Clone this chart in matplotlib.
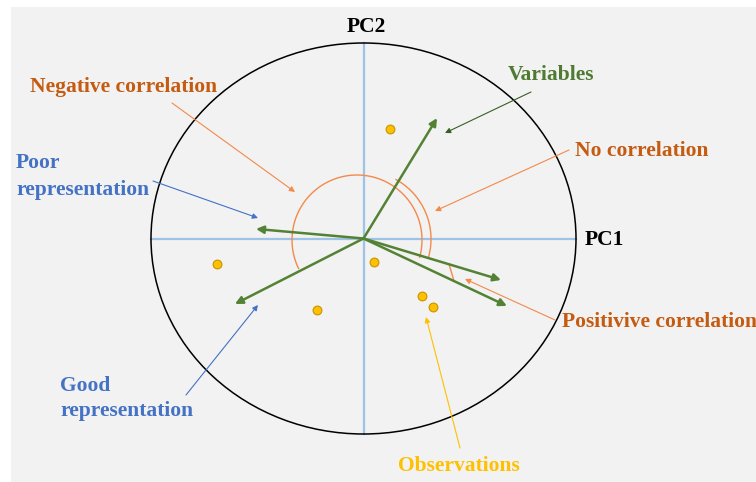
import numpy as np
import matplotlib
matplotlib.use("Agg")
import matplotlib.pyplot as plt
from matplotlib.patches import Ellipse, Rectangle

# ---- data (unit-circle PCA space) ----
var_x = [0.346, -0.506, -0.605, 0.647, 0.675]
var_y = [0.616, 0.049, -0.335, -0.212, -0.345]
obs_x = [0.125, -0.689, -0.219, 0.049, 0.275, 0.327]
obs_y = [0.560, -0.130, -0.366, -0.120, -0.294, -0.350]
axis_labels = ["PC1", "PC2"]

# ---- geometry of the picture (pixel -> unit space) ----
W, H = 756, 482
CX, CY, RX, RY = 363.5, 238.5, 212.5, 195.5


def P(px, py):
    return ((px - CX) / RX, (CY - py) / RY)


fig = plt.figure(figsize=(W / 100, H / 100), dpi=100, facecolor="white")
ax = fig.add_axes([0, 0, 1, 1])
x0, _ = P(0, 0)
x1, _ = P(W, 0)
_, y1 = P(0, 0)
_, y0 = P(0, H)
ax.set_xlim(x0, x1)
ax.set_ylim(y0, y1)
ax.axis("off")

FONT = "Liberation Serif"
ORANGE_TXT = "#c55a11"
ORANGE_LN = "#f4894a"
BLUE = "#4472c4"
GREEN = "#548235"
DKGREEN = "#3a5e25"
YELLOW = "#ffc000"

# background panel
bx, by = P(11, H)
bx2, by2 = P(W, 7)
ax.add_patch(Rectangle((bx, by), bx2 - bx, by2 - by, facecolor="#f2f2f2",
                       edgecolor="none", zorder=0))

# correlation circle
ax.add_patch(Ellipse((0, 0), 2, 2, facecolor="none", edgecolor="black", lw=1.1, zorder=2))
# axes lines
ax.plot([-1, 1], [0, 0], color="#9dc3e6", lw=1.6, zorder=1)
ax.plot([0, 0], [-1, 1], color="#9dc3e6", lw=1.6, zorder=1)


def arc_px(cx, cy, r, t1, t2, n=100):
    t = np.radians(np.linspace(t1, t2, n))
    px = cx + r * np.cos(t)
    py = cy - r * np.sin(t)
    return (px - CX) / RX, (CY - py) / RY

# correlation arcs
ax.plot(*arc_px(357, 240, 65, -15.5, 206), color=ORANGE_LN, lw=1.0, zorder=3)
ax.plot(*arc_px(363, 239, 68, -16.3, 61), color=ORANGE_LN, lw=1.0, zorder=3)
pa, pb = P(449, 264), P(454, 281)
ax.plot([pa[0], pb[0]], [pa[1], pb[1]], color=ORANGE_LN, lw=1.0, zorder=3)

# variable vectors
for vx, vy in zip(var_x, var_y):
    ax.annotate("", xy=(vx, vy), xytext=(0, 0),
                arrowprops=dict(arrowstyle="-|>", color=GREEN, lw=1.8,
                                mutation_scale=11, shrinkA=0, shrinkB=0),
                zorder=4)

# observations
ax.scatter(obs_x, obs_y, s=40, facecolor=YELLOW, edgecolor="#c79400", lw=0.8, zorder=5)


def pointer(txt_px, tip_px, color):
    ax.annotate("", xy=P(*tip_px), xytext=P(*txt_px),
                arrowprops=dict(arrowstyle="-|>", color=color, lw=0.8,
                                mutation_scale=8, shrinkA=0, shrinkB=0),
                zorder=6)

pointer((531, 92), (445, 133), DKGREEN)
pointer((569, 150), (435, 211), ORANGE_LN)
pointer((172, 103), (295, 192), ORANGE_LN)
pointer((153, 181), (258, 218), BLUE)
pointer((186, 395), (258, 305), BLUE)
pointer((555, 320), (465, 279), ORANGE_LN)
pointer((460, 448), (426, 317), YELLOW)


def label(px, py, s, color, ha="left"):
    ax.text(*P(px, py), s, color=color, fontsize=15.5, fontweight="bold",
            family=FONT, ha=ha, va="center", zorder=7)

label(366, 27, axis_labels[1], "black", ha="center")
label(585, 240, axis_labels[0], "black")
label(508, 75, "Variables", "#4f7a31")
label(575, 151, "No correlation", ORANGE_TXT)
label(30, 87, "Negative correlation", ORANGE_TXT)
label(16, 163, "Poor", BLUE)
label(16, 190, "representation", BLUE)
label(60, 386, "Good", BLUE)
label(60, 411, "representation", BLUE)
label(562, 322, "Positivive correlation", ORANGE_TXT)
label(398, 466, "Observations", YELLOW)

fig.savefig("out.png", dpi=100, facecolor="white")
